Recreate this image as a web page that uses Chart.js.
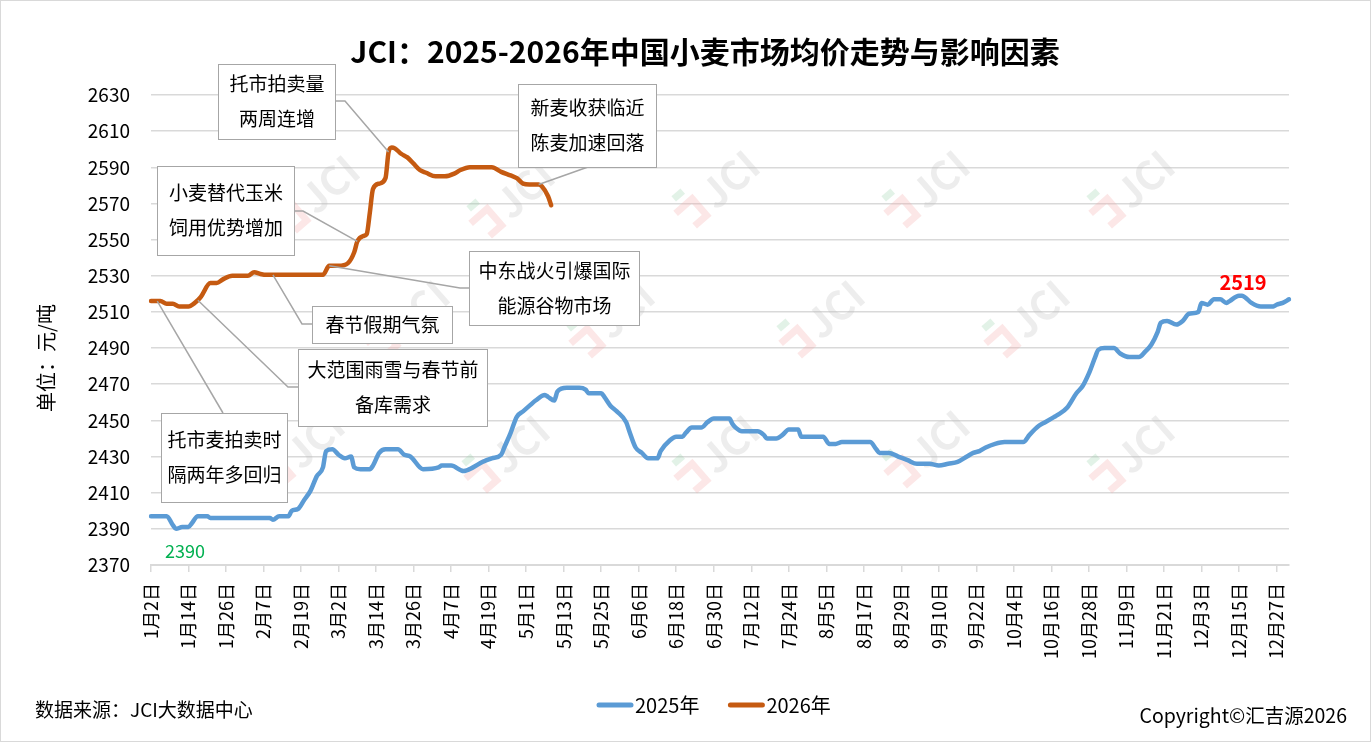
<!DOCTYPE html>
<html>
<head>
<meta charset="utf-8">
<script src="https://cdn.jsdelivr.net/npm/chart.js@4.4.1/dist/chart.umd.min.js"></script>
<style>
  html, body { margin: 0; padding: 0; background: #fff; }
  canvas { display: block; }
</style>
</head>
<body>
<canvas id="chart" width="1371" height="742"></canvas>
<script>
// calendar of the x axis (leap-year calendar, 1月2日 .. 12月31日)
const monthDays = [31, 29, 31, 30, 31, 30, 31, 31, 30, 31, 30, 31];
const categories = [];
monthDays.forEach((n, m) => {
  for (let d = 1; d <= n; d++) {
    if (m === 0 && d === 1) continue;
    categories.push((m + 1) + '月' + d + '日');
  }
});

const tickLabels = ['1月2日', '1月14日', '1月26日', '2月7日', '2月19日', '3月2日', '3月14日', '3月26日',
  '4月7日', '4月19日', '5月1日', '5月13日', '5月25日', '6月6日', '6月18日', '6月30日', '7月12日',
  '7月24日', '8月5日', '8月17日', '8月29日', '9月10日', '9月22日', '10月4日', '10月16日', '10月28日',
  '11月9日', '11月21日', '12月3日', '12月15日', '12月27日'];

const yMin = 2370, yMax = 2630, yStep = 20;

// 2025年
const dates2025 = [
  '1月2日', '1月7日', '1月9日', '1月10日', '1月12日', '1月14日', '1月15日', '1月17日', '1月20日', '1月21日',
  '2月9日', '2月10日', '2月12日', '2月15日', '2月16日', '2月18日', '2月20日', '2月22日', '2月24日', '2月26日', '2月27日', '2月29日',
  '3月2日', '3月4日', '3月6日', '3月7日', '3月9日', '3月12日', '3月13日', '3月15日', '3月17日', '3月21日', '3月23日', '3月25日', '3月28日', '3月29日',
  '4月3日', '4月4日', '4月7日', '4月11日', '4月14日', '4月17日', '4月20日', '4月23日', '4月24日', '4月26日', '4月28日', '4月30日',
  '5月2日', '5月4日', '5月7日', '5月8日', '5月10日', '5月11日', '5月14日', '5月18日', '5月20日', '5月21日', '5月25日', '5月26日', '5月28日', '5月30日',
  '6月2日', '6月3日', '6月5日', '6月7日', '6月9日', '6月12日', '6月13日', '6月16日', '6月18日', '6月20日', '6月21日', '6月23日', '6月26日', '6月28日', '6月30日',
  '7月5日', '7月6日', '7月7日', '7月9日', '7月14日', '7月16日', '7月17日', '7月20日', '7月22日', '7月24日', '7月27日', '7月28日',
  '8月4日', '8月6日', '8月8日', '8月10日', '8月19日', '8月21日', '8月22日', '8月25日', '8月28日', '8月31日',
  '9月3日', '9月7日', '9月10日', '9月13日', '9月16日', '9月19日', '9月21日', '9月23日', '9月25日', '9月28日',
  '10月1日', '10月7日', '10月9日', '10月12日', '10月14日', '10月17日', '10月18日', '10月21日', '10月24日', '10月26日', '10月28日', '10月30日', '10月31日',
  '11月2日', '11月5日', '11月7日', '11月10日', '11月13日', '11月15日', '11月17日', '11月19日', '11月20日', '11月22日', '11月25日', '11月27日', '11月29日',
  '12月2日', '12月3日', '12月5日', '12月7日', '12月9日', '12月11日', '12月12日', '12月15日', '12月16日', '12月17日', '12月19日', '12月22日', '12月26日', '12月27日', '12月29日', '12月31日'
];
const price2025 = [
  2397, 2397, 2392, 2390, 2391, 2391, 2393, 2397, 2397, 2396,
  2396, 2395, 2397, 2397, 2400, 2401, 2406, 2411, 2419, 2424, 2433, 2434,
  2431, 2429, 2430, 2424, 2423, 2423, 2425, 2432, 2434, 2434, 2431, 2430, 2424, 2423,
  2424, 2425, 2425, 2422, 2424, 2427, 2429, 2431, 2435, 2443, 2452, 2455,
  2458, 2461, 2464, 2463, 2461, 2466, 2468, 2468, 2467, 2465, 2465, 2463, 2458, 2455,
  2449, 2444, 2435, 2432, 2429, 2429, 2433, 2439, 2441, 2441, 2443, 2446, 2446, 2449, 2451,
  2451, 2448, 2446, 2444, 2444, 2442, 2440, 2440, 2442, 2445, 2445, 2441,
  2441, 2437, 2437, 2438, 2438, 2434, 2432, 2432, 2430, 2428,
  2426, 2426, 2425, 2426, 2427, 2430, 2432, 2433, 2435, 2437,
  2438, 2438, 2442, 2447, 2449, 2452, 2453, 2457, 2465, 2469, 2476, 2485, 2489,
  2490, 2490, 2487, 2485, 2485, 2488, 2492, 2499, 2504, 2505, 2503, 2505, 2509,
  2510, 2515, 2514, 2517, 2517, 2515, 2516, 2519, 2519, 2518, 2515, 2513, 2513, 2514, 2515, 2517
];

// 2026年
const dates2026 = [
  '1月2日', '1月4日', '1月5日', '1月7日', '1月9日', '1月11日', '1月14日', '1月16日', '1月17日', '1月18日', '1月21日', '1月23日', '1月25日', '1月28日',
  '2月2日', '2月4日', '2月6日', '2月8日', '2月10日', '2月26日', '2月28日',
  '3月2日', '3月5日', '3月7日', '3月8日', '3月10日', '3月11日', '3月12日', '3月13日', '3月15日', '3月17日', '3月18日', '3月19日', '3月20日', '3月22日', '3月24日', '3月26日', '3月28日', '3月30日',
  '4月2日', '4月5日', '4月8日', '4月10日', '4月13日', '4月20日', '4月23日', '4月26日', '4月28日', '4月30日',
  '5月2日', '5月5日', '5月6日', '5月8日', '5月9日'
];
const price2026 = [
  2516, 2516, 2516, 2514.5, 2514.5, 2513, 2513, 2515, 2516.5, 2518.5, 2526, 2526, 2528, 2530,
  2530, 2532, 2531, 2530.5, 2530.5, 2530.5, 2535.5,
  2535.5, 2537, 2543, 2549, 2552, 2553, 2565, 2578, 2581, 2584, 2598.5, 2601, 2600.5, 2597.5, 2595.5, 2592, 2588.5, 2587,
  2585, 2585, 2586.5, 2588.5, 2590, 2590, 2587.5, 2585.5, 2584, 2581,
  2580.5, 2580.5, 2579.5, 2574, 2569
];

const seriesNames = ['2025年', '2026年'];
const seriesColors = ['#5b9bd5', '#c55a11'];
const seriesDates = [dates2025, dates2026];

// callouts: text, box [x, y, w, h], leader bends, anchored to a data point
const callouts = [
  { text: ['托市拍卖量', '两周连增'], box: [218, 64, 117, 75], bend: [[335, 101], [345, 101]], series: 1, date: '3月18日' },
  { text: ['新麦收获临近', '陈麦加速回落'], box: [518, 84, 138, 83], bend: [[588, 167]], series: 1, date: '5月5日' },
  { text: ['小麦替代玉米', '饲用优势增加'], box: [157, 166, 137, 89], bend: [[294, 211], [303, 211]], series: 1, date: '3月8日' },
  { text: ['中东战火引爆国际', '能源谷物市场'], box: [469, 251, 170, 74], bend: [[469, 288], [460, 288]], series: 1, date: '2月28日' },
  { text: ['春节假期气氛'], box: [312, 306, 140, 37], bend: [[312, 324], [302, 324]], series: 1, date: '2月10日' },
  { text: ['大范围雨雪与春节前', '备库需求'], box: [298, 349, 189, 77], bend: [[298, 387], [288, 387]], series: 1, date: '1月17日' },
  { text: ['托市麦拍卖时', '隔两年多回归'], box: [161, 413, 126, 89], bend: [[223, 413]], series: 1, date: '1月4日' }
];

const watermarks = [
  [320, 190], [515, 195], [720, 185], [930, 185], [1135, 185],
  [410, 315], [615, 315], [825, 315], [1030, 315],
  [305, 445], [510, 450], [720, 450], [930, 445], [1135, 450]
];

const FONT = "'Noto Sans CJK SC', 'Noto Sans', sans-serif";
Chart.defaults.font.family = FONT;
Chart.defaults.color = '#000';

const overlay = {
  id: 'overlay',
  beforeDatasetsDraw(chart) {
    const ctx = chart.ctx;
    watermarks.forEach(([cx, cy]) => {
      ctx.save();
      ctx.translate(cx, cy);
      ctx.rotate(-0.72);
      ctx.lineWidth = 7;
      ctx.strokeStyle = 'rgba(244, 170, 170, 0.28)';
      ctx.beginPath();
      ctx.moveTo(-52, -8);
      ctx.lineTo(-30, -8);
      ctx.lineTo(-30, 14);
      ctx.lineTo(-46, 14);
      ctx.stroke();
      ctx.strokeStyle = 'rgba(150, 210, 170, 0.28)';
      ctx.beginPath();
      ctx.moveTo(-44, -20);
      ctx.lineTo(-32, -20);
      ctx.stroke();
      ctx.fillStyle = 'rgba(190, 190, 190, 0.28)';
      ctx.font = 'bold 40px ' + FONT;
      ctx.textBaseline = 'middle';
      ctx.fillText('JCI', -20, 2);
      ctx.restore();
    });
  },
  afterDraw(chart) {
    const ctx = chart.ctx;
    ctx.save();

    // outer frame
    ctx.strokeStyle = '#d9d9d9';
    ctx.lineWidth = 1;
    ctx.strokeRect(0.5, 0.5, chart.width - 1, chart.height - 1);

    // title
    ctx.fillStyle = '#000';
    ctx.textAlign = 'center';
    ctx.textBaseline = 'middle';
    ctx.font = 'bold 30px ' + FONT;
    ctx.fillText('JCI：2025-2026年中国小麦市场均价走势与影响因素', 705, 52);

    // y axis title
    ctx.save();
    ctx.translate(46, 358);
    ctx.rotate(-Math.PI / 2);
    ctx.font = '20px ' + FONT;
    ctx.fillText('单位：元/吨', 0, 0);
    ctx.restore();

    // callouts
    callouts.forEach(c => {
      const meta = chart.getDatasetMeta(c.series);
      const pt = meta.data[seriesDates[c.series].indexOf(c.date)];
      ctx.strokeStyle = '#a6a6a6';
      ctx.lineWidth = 1.5;
      ctx.beginPath();
      ctx.moveTo(c.bend[0][0], c.bend[0][1]);
      c.bend.slice(1).forEach(p => ctx.lineTo(p[0], p[1]));
      ctx.lineTo(pt.x, pt.y);
      ctx.stroke();
      const [bx, by, bw, bh] = c.box;
      ctx.fillStyle = '#fff';
      ctx.fillRect(bx, by, bw, bh);
      ctx.lineWidth = 1;
      ctx.strokeRect(bx + 0.5, by + 0.5, bw, bh);
      ctx.fillStyle = '#000';
      ctx.font = '19px ' + FONT;
      const mid = by + bh / 2;
      const n = c.text.length;
      c.text.forEach((t, k) => {
        ctx.fillText(t, bx + bw / 2 + 0.5, mid + (k - (n - 1) / 2) * 35);
      });
    });

    // min / max labels of 2025
    const meta0 = chart.getDatasetMeta(0);
    const iMin = price2025.indexOf(Math.min(...price2025));
    const iMax = price2025.indexOf(Math.max(...price2025));
    const pMin = meta0.data[iMin], pMax = meta0.data[iMax];
    ctx.font = '18px ' + FONT;
    ctx.fillStyle = '#00b050';
    ctx.fillText(String(price2025[iMin]), pMin.x + 9, pMin.y + 22);
    ctx.font = 'bold 20px ' + FONT;
    ctx.fillStyle = '#ff0000';
    ctx.fillText(String(price2025[iMax]), pMax.x + 4, pMax.y - 13);

    // legend
    ctx.font = '20px ' + FONT;
    ctx.textAlign = 'left';
    let lx = 597;
    const ly = 705;
    chart.data.datasets.forEach(ds => {
      ctx.strokeStyle = ds.borderColor;
      ctx.lineWidth = 5;
      ctx.lineCap = 'round';
      ctx.beginPath();
      ctx.moveTo(lx + 2, ly);
      ctx.lineTo(lx + 34, ly);
      ctx.stroke();
      ctx.fillStyle = '#000';
      ctx.fillText(ds.label, lx + 38, ly);
      lx += 38 + ctx.measureText(ds.label).width + 29;
    });

    // footers
    ctx.font = '19px ' + FONT;
    ctx.fillText('数据来源：JCI大数据中心', 35, 710);
    ctx.textAlign = 'right';
    ctx.font = '19.5px ' + FONT;
    ctx.fillText('Copyright©汇吉源2026', 1347, 716);
    ctx.restore();
  }
};

const toPoints = (dates, values) => dates.map((d, i) => ({ x: d, y: values[i] }));

new Chart(document.getElementById('chart'), {
  type: 'line',
  data: {
    labels: categories,
    datasets: [
      { label: seriesNames[0], data: toPoints(dates2025, price2025), borderColor: seriesColors[0], borderWidth: 4.5 },
      { label: seriesNames[1], data: toPoints(dates2026, price2026), borderColor: seriesColors[1], borderWidth: 4.5 }
    ]
  },
  options: {
    responsive: false,
    animation: false,
    events: [],
    layout: { padding: { left: 0, top: 95, right: 82, bottom: 0 } },
    elements: {
      point: { radius: 0 },
      line: { cubicInterpolationMode: 'monotone', borderCapStyle: 'round', borderJoinStyle: 'round' }
    },
    plugins: { legend: { display: false }, title: { display: false }, tooltip: { enabled: false } },
    scales: {
      x: {
        type: 'category',
        offset: false,
        afterFit: s => { s.height = 177; },
        afterBuildTicks: s => { s.ticks = s.ticks.filter(t => tickLabels.includes(categories[t.value])); },
        grid: { display: true, drawOnChartArea: false, drawTicks: true, tickLength: 7, color: '#d9d9d9', lineWidth: 1.5 },
        border: { display: true, color: '#d9d9d9', width: 2 },
        ticks: { autoSkip: false, minRotation: 90, maxRotation: 90, padding: 11, font: { size: 18 }, color: '#000' }
      },
      y: {
        min: yMin,
        max: yMax,
        afterFit: s => { s.width = 151; },
        grid: { color: '#d9d9d9', lineWidth: 1.5, drawTicks: false },
        border: { display: false },
        ticks: { stepSize: yStep, padding: 21, font: { size: 19 }, color: '#000', callback: v => String(v) }
      }
    }
  },
  plugins: [overlay]
});
</script>
</body>
</html>
